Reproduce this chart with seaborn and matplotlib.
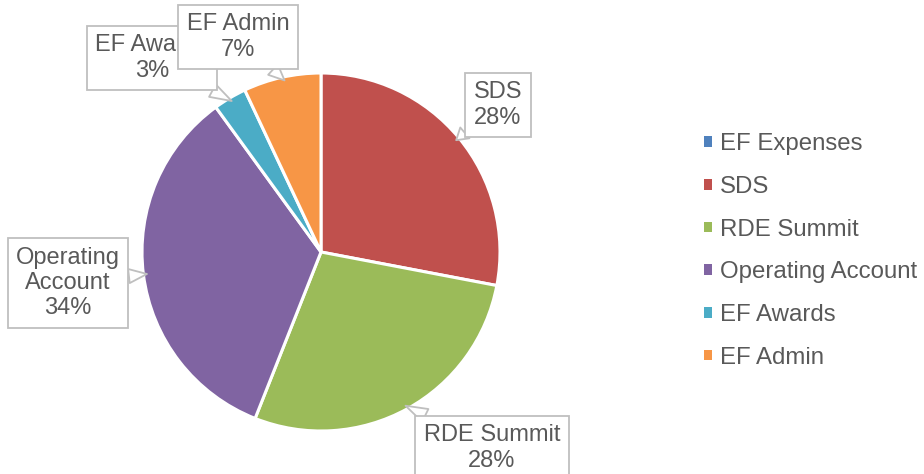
import numpy as np
import matplotlib.pyplot as plt
import matplotlib.patches as mpatches
import seaborn as sns

sns.set_theme(style="white")
plt.rcParams['font.family'] = ['Liberation Sans', 'DejaVu Sans']

# dados
categories = ['EF Expenses', 'SDS', 'RDE Summit', 'Operating Account', 'EF Awards', 'EF Admin']
shares = [0, 28, 28, 34, 3, 7]
colors = ['#4F81BD', '#C0504D', '#9BBB59', '#8064A2', '#4BACC6', '#F79646']

# posição das caixas (pixels da figura, origem embaixo) e ângulo da ponta
callouts = {
    'SDS': ((498, 369), None),
    'RDE Summit': ((492, 26), None),
    'Operating Account': ((68, 191), None),
    'EF Awards': ((152, 416), None),
    'EF Admin': ((238, 437), 102),
}
label_text = {'Operating Account': 'Operating\nAccount'}

W, H = 924, 474
fig = plt.figure(figsize=(W / 100, H / 100), dpi=100)
cx, cy, r = 321, 474 - 252, 179
ax = fig.add_axes([(cx - r) / W, (cy - r) / H, 2 * r / W, 2 * r / H])

wedges, _ = ax.pie(shares, colors=colors, startangle=90, counterclock=False,
                   wedgeprops=dict(edgecolor='white', linewidth=2.2))
ax.set_xlim(-1, 1)
ax.set_ylim(-1, 1)

txt_color = '#595959'
order = 0
for w, cat, val in zip(wedges, categories, shares):
    if cat not in callouts:
        continue
    pos, ang = callouts[cat]
    if ang is None:
        ang = (w.theta1 + w.theta2) / 2
    a = np.deg2rad(ang)
    order += 1
    ax.annotate(f"{label_text.get(cat, cat)}\n{val}%",
                xy=(0.98 * np.cos(a), 0.98 * np.sin(a)), xycoords='data',
                xytext=pos, textcoords='figure pixels',
                ha='center', va='center', fontsize=17, color=txt_color,
                zorder=10 + order, annotation_clip=False,
                bbox=dict(boxstyle='square,pad=0.35', fc='white', ec='#BFBFBF', lw=1.3),
                arrowprops=dict(arrowstyle='wedge,tail_width=0.6,shrink_factor=0.5',
                                fc='white', ec='#BFBFBF', lw=1.3,
                                shrinkA=0, shrinkB=0))

handles = [mpatches.Patch(facecolor=c, edgecolor='none') for c in colors]
fig.legend(handles, categories, loc='center left', bbox_to_anchor=(704 / W, 1 - 251 / H),
           frameon=False, fontsize=17.3, labelcolor=txt_color,
           handlelength=0.32, handleheight=0.32, handletextpad=0.35,
           labelspacing=0.86, borderpad=0, borderaxespad=0)

plt.savefig('out.png', dpi=100)
